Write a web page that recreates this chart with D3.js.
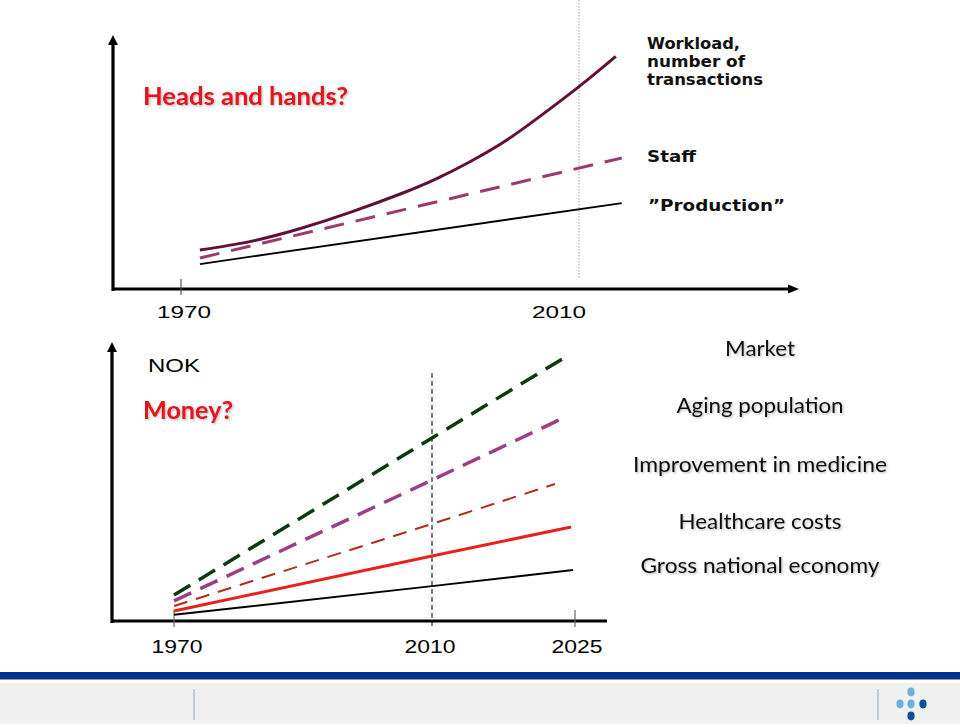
<!DOCTYPE html>
<html><head><meta charset="utf-8">
<script src="https://cdn.jsdelivr.net/npm/d3@7"></script>
<style>
html,body{margin:0;padding:0;background:#fff;}
svg{display:block;}
</style></head>
<body>
<svg id="c" width="960" height="727"></svg>
<script>
// ---------- DATA ----------
// Top chart ("Heads and hands?")
const topTickYears = [1970, 2010];
const topTickLabels = ["1970", "2010"];
const workloadYears  = [1971.9, 1976.9, 1982.0, 1987.0, 1992.3, 1995.7, 1999.0, 2002.4, 2005.8, 2010.0, 2013.7];
const workloadValues = [15.5, 18.8, 24.0, 30.4, 38.1, 43.8, 50.4, 58.2, 67.7, 80.3, 92.3];
const staffYears  = [1971.9, 2014.3];
const staffValues = [12.3, 52.0];
const productionYears  = [1971.9, 2014.3];
const productionValues = [9.9, 34.1];
const topLabels = ["Workload,", "number of", "transactions"];

// Bottom chart ("Money?")
const bottomTickYears = [1970, 2010, 2025];
const bottomTickLabels = ["1970", "2010", "2025"];
const marketYears = [1970, 2010, 2024.0];       const marketValues = [9.3, 65.6, 94.6];
const agingYears = [1970, 2010, 2023.3];        const agingValues = [7.2, 50.5, 72.0];
const improvementYears = [1970, 2010, 2022.9];  const improvementValues = [5.4, 34.8, 49.1];
const healthcareYears = [1970, 2010, 2024.6];   const healthcareValues = [3.6, 23.3, 33.7];
const gneYears = [1970, 2010, 2024.8];          const gneValues = [2.2, 12.5, 18.3];
const bottomSeriesNames = ["Market", "Aging population", "Improvement in medicine", "Healthcare costs", "Gross national economy"];

// ---------- DRAW ----------
const svg = d3.select("#c");
const defs = svg.append("defs");
const f = defs.append("filter").attr("id","sh").attr("x","-10%").attr("y","-30%").attr("width","130%").attr("height","160%");
f.append("feDropShadow").attr("dx",1.2).attr("dy",1.2).attr("stdDeviation",0.9).attr("flood-color","#000").attr("flood-opacity",0.28);

const sans = "'Liberation Sans', Arial, sans-serif";
const calib = "Lato, 'Open Sans', sans-serif";
const verd = "'DejaVu Sans', Verdana, sans-serif";

function arrowHead(g, x, y, dir) {
  const p = dir === "up"
    ? [[x, y], [x - 5, y + 10], [x + 5, y + 10]]
    : [[x, y], [x - 11, y - 4.5], [x - 11, y + 4.5]];
  g.append("path").attr("d", d3.line()(p) + "Z").attr("fill", "#000");
}

// ===== TOP CHART =====
const xT = d3.scaleLinear().domain([1970, 2010]).range([181, 579]);
const yT = d3.scaleLinear().domain([0, 100]).range([289, 37]);
const gT = svg.append("g");

gT.append("line").attr("x1", xT(2010)).attr("x2", xT(2010)).attr("y1", 0).attr("y2", 278)
  .attr("stroke", "#9a9a9a").attr("stroke-width", 1).attr("stroke-dasharray", "1.5,1.5");

gT.append("line").attr("x1", 113).attr("x2", 113).attr("y1", 44).attr("y2", 291).attr("stroke", "#000").attr("stroke-width", 3.2);
arrowHead(gT, 113, 35, "up");
gT.append("line").attr("x1", 112).attr("x2", 789).attr("y1", yT(0)).attr("y2", yT(0)).attr("stroke", "#000").attr("stroke-width", 3);
arrowHead(gT, 799, yT(0), "right");
gT.append("line").attr("x1", xT(1970)).attr("x2", xT(1970)).attr("y1", 279).attr("y2", 295).attr("stroke", "#555").attr("stroke-width", 1.2);

const topLabelOffsets = [3, -20];
gT.selectAll("text.tt").data(topTickYears).join("text").attr("class", "tt")
  .attr("x", (d, i) => xT(d) + topLabelOffsets[i]).attr("y", 318)
  .attr("text-anchor", "middle").attr("font-family", sans).attr("font-size", 17)
  .attr("textLength", 54).attr("lengthAdjust", "spacingAndGlyphs")
  .text((d, i) => topTickLabels[i]);

const lineT = d3.line().x(d => xT(d[0])).y(d => yT(d[1]));
gT.append("path").datum(d3.zip(productionYears, productionValues)).attr("d", lineT)
  .attr("fill", "none").attr("stroke", "#000").attr("stroke-width", 1.8);
gT.append("path").datum(d3.zip(staffYears, staffValues)).attr("d", lineT)
  .attr("fill", "none").attr("stroke", "#9c3a70").attr("stroke-width", 3).attr("stroke-dasharray", "20,12");
gT.append("path").datum(d3.zip(workloadYears, workloadValues))
  .attr("d", d3.line().x(d => xT(d[0])).y(d => yT(d[1])).curve(d3.curveNatural))
  .attr("fill", "none").attr("stroke", "#62103a").attr("stroke-width", 3);

// labels top right
const topLabelWidths = [93, 98, 116];
gT.selectAll("text.wl").data(topLabels).join("text").attr("class", "wl")
  .attr("x", 647).attr("y", (d, i) => 49 + i * 18)
  .attr("font-family", verd).attr("font-weight", "bold").attr("font-size", 16).attr("fill", "#111")
  .attr("textLength", (d, i) => topLabelWidths[i]).attr("lengthAdjust", "spacingAndGlyphs")
  .text(d => d);
gT.append("text").attr("x", 647).attr("y", 162).attr("font-family", verd).attr("font-weight", "bold")
  .attr("font-size", 16).attr("fill", "#111").attr("textLength", 49).attr("lengthAdjust", "spacingAndGlyphs").text("Staff");
gT.append("text").attr("x", 648).attr("y", 211).attr("font-family", verd).attr("font-weight", "bold")
  .attr("font-size", 16).attr("fill", "#111").attr("textLength", 137).attr("lengthAdjust", "spacingAndGlyphs").text("\u201DProduction\u201D");

gT.append("text").attr("x", 143).attr("y", 105).attr("font-family", calib).attr("font-weight", "bold")
  .attr("font-size", 25).attr("fill", "#e3121b").attr("filter", "url(#sh)")
  .attr("textLength", 205).attr("lengthAdjust", "spacingAndGlyphs").text("Heads and hands?");

// ===== BOTTOM CHART =====
const xB = d3.scaleLinear().domain([1970, 2010, 2025]).range([174, 432, 575]);
const yB = d3.scaleLinear().domain([0, 100]).range([621, 342]);
const gB = svg.append("g");

gB.append("line").attr("x1", xB(2010)).attr("x2", xB(2010)).attr("y1", 373).attr("y2", 627)
  .attr("stroke", "#000").attr("stroke-width", 1).attr("stroke-dasharray", "5,3");

gB.append("line").attr("x1", 112).attr("x2", 112).attr("y1", 351).attr("y2", 623).attr("stroke", "#000").attr("stroke-width", 3.2);
arrowHead(gB, 112, 342, "up");
gB.append("line").attr("x1", 113).attr("x2", 607).attr("y1", yB(0)).attr("y2", yB(0)).attr("stroke", "#000").attr("stroke-width", 3);
gB.selectAll("line.tk").data([1970, 2025]).join("line").attr("class", "tk")
  .attr("x1", d => xB(d)).attr("x2", d => xB(d)).attr("y1", 610).attr("y2", 627)
  .attr("stroke", "#666").attr("stroke-width", 1.2);

const bottomLabelOffsets = [3, -2, 2];
gB.selectAll("text.bt").data(bottomTickYears).join("text").attr("class", "bt")
  .attr("x", (d, i) => xB(d) + bottomLabelOffsets[i]).attr("y", 653)
  .attr("text-anchor", "middle").attr("font-family", sans).attr("font-size", 18)
  .attr("textLength", 51).attr("lengthAdjust", "spacingAndGlyphs")
  .text((d, i) => bottomTickLabels[i]);

const lineB = d3.line().x(d => xB(d[0])).y(d => yB(d[1]));
const bottomSeries = [
  {years: gneYears, values: gneValues, color: "#000", w: 2, dash: null},
  {years: healthcareYears, values: healthcareValues, color: "#e8221b", w: 3, dash: null},
  {years: improvementYears, values: improvementValues, color: "#b42a1c", w: 2, dash: "14,9"},
  {years: agingYears, values: agingValues, color: "#9a3f86", w: 3.5, dash: "19,10"},
  {years: marketYears, values: marketValues, color: "#0c3a10", w: 3.5, dash: "19,10"}
];
gB.selectAll("path.s").data(bottomSeries).join("path").attr("class", "s")
  .attr("d", d => lineB(d3.zip(d.years, d.values)))
  .attr("fill", "none").attr("stroke", d => d.color).attr("stroke-width", d => d.w)
  .attr("stroke-dasharray", d => d.dash);

gB.append("text").attr("x", 148).attr("y", 372).attr("font-family", sans).attr("font-size", 18)
  .attr("textLength", 52).attr("lengthAdjust", "spacingAndGlyphs").text("NOK");
gB.append("text").attr("x", 143).attr("y", 419).attr("font-family", calib).attr("font-weight", "bold")
  .attr("font-size", 25).attr("fill", "#e3121b").attr("filter", "url(#sh)")
  .attr("textLength", 90).attr("lengthAdjust", "spacingAndGlyphs").text("Money?");

const rightBaselines = [356, 413, 472, 529, 573];
const rightWidths = [70, 167, 254, 163, 239];
gB.selectAll("text.rl").data(bottomSeriesNames).join("text").attr("class", "rl")
  .attr("x", 760).attr("y", (d, i) => rightBaselines[i]).attr("text-anchor", "middle")
  .attr("font-family", calib).attr("font-size", 22).attr("fill", "#111").attr("filter", "url(#sh)")
  .attr("textLength", (d, i) => rightWidths[i]).attr("lengthAdjust", "spacingAndGlyphs")
  .text(d => d);

// ===== FOOTER =====
const gF = svg.append("g");
gF.append("rect").attr("x", 0).attr("y", 672).attr("width", 960).attr("height", 7.5).attr("fill", "#01338c");
gF.append("rect").attr("x", 0).attr("y", 683).attr("width", 960).attr("height", 41).attr("fill", "#f0f0f0");
gF.selectAll("line.sep").data([194, 878]).join("line").attr("class", "sep")
  .attr("x1", d => d).attr("x2", d => d).attr("y1", 689).attr("y2", 720)
  .attr("stroke", "#9fb4cf").attr("stroke-width", 1.2);
const dots = [[911, 692, "#6cb0e0"], [900, 704, "#6cb0e0"], [911, 704, "#6cb0e0"], [923, 704, "#0b4f9c"], [911, 716, "#0b4f9c"]];
gF.selectAll("ellipse").data(dots).join("ellipse")
  .attr("cx", d => d[0]).attr("cy", d => d[1]).attr("rx", 3.6).attr("ry", 4.4).attr("fill", d => d[2]);
</script>
</body></html>
